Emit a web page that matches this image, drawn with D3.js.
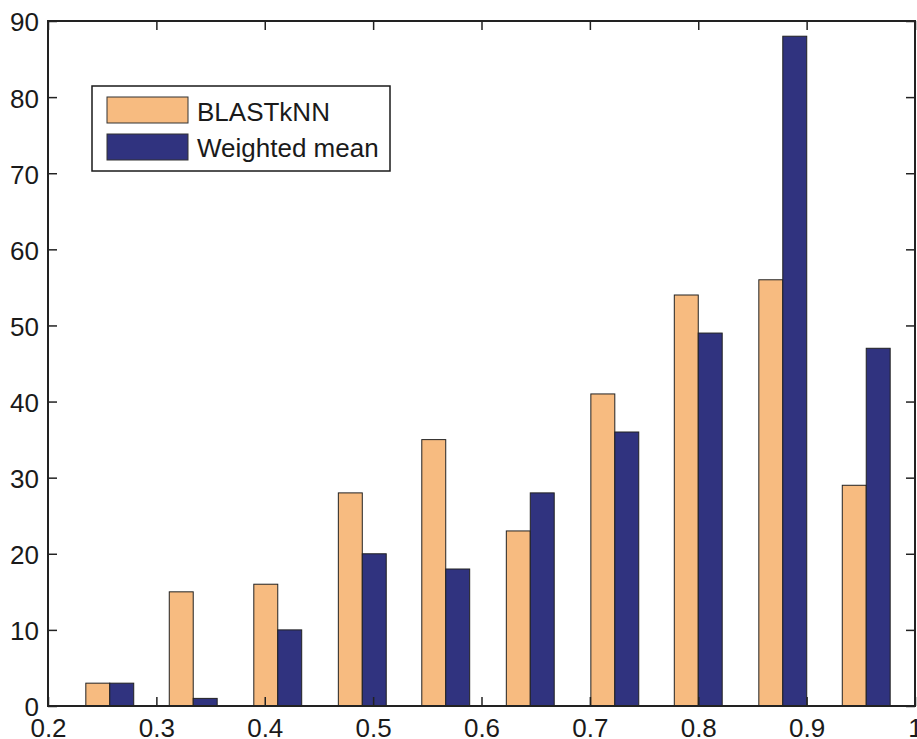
<!DOCTYPE html>
<html>
<head>
<meta charset="utf-8">
<script src="https://cdn.jsdelivr.net/npm/d3@7"></script>
<style>
  body { margin: 0; background: #fff; }
  text { font-family: "Liberation Sans", Arial, sans-serif; fill: #1a1a1a; }
</style>
</head>
<body>
<script>
// bin centres of the histogram
const binCenters = [0.257, 0.334, 0.412, 0.490, 0.567, 0.645, 0.723, 0.800, 0.878, 0.955]
const blastKnn = [3, 15, 16, 28, 35, 23, 41, 54, 56, 29]
const weightedMean = [3, 1, 10, 20, 18, 28, 36, 49, 88, 47]
const seriesNames = ["BLASTkNN", "Weighted mean"]
const seriesColors = ["#f7bb80", "#30337f"]
const xTicks = [0.2, 0.3, 0.4, 0.5, 0.6, 0.7, 0.8, 0.9, 1]
const yTicks = [0, 10, 20, 30, 40, 50, 60, 70, 80, 90]

const W = 917, H = 739
const margin = {top: 21, right: 2, bottom: 33, left: 48}
const width = W - margin.left - margin.right,
      height = H - margin.top - margin.bottom
const fontSize = 26

const svg = d3.select("body").append("svg")
  .attr("width", W)
  .attr("height", H)

const x = d3.scaleLinear().domain([0.2, 1]).range([0, width])
const y = d3.scaleLinear().domain([0, 90]).range([height, 0])

const g = svg.append("g")
  .attr("transform", "translate(" + margin.left + "," + margin.top + ")")

// bars: two side by side per bin
const barW = x(0.2221) - x(0.2)
const data = binCenters.map((c, i) => ({c: c, v: [blastKnn[i], weightedMean[i]]}))

data.forEach(function(d) {
  d.v.forEach(function(v, s) {
    g.append("rect")
      .attr("x", x(d.c) + (s - 1) * barW)
      .attr("y", y(v))
      .attr("width", barW)
      .attr("height", height - y(v))
      .attr("fill", seriesColors[s])
      .attr("stroke", "#222")
      .attr("stroke-width", 1)
  })
})

// axes, MATLAB style: ticks inside, box all round
const tickLen = 9
const axisColor = "#222"

const xAx = g.append("g")
  .attr("transform", "translate(0," + height + ")")
  .call(d3.axisBottom(x).tickValues(xTicks).tickSize(-tickLen).tickPadding(13)
    .tickFormat(d => d === 1 ? "1" : d3.format(".1f")(d)))
xAx.select(".domain").remove()
xAx.selectAll("text").attr("font-size", fontSize).style("font-family", "Liberation Sans, Arial, sans-serif").attr("fill", "#1a1a1a")

const xTop = g.append("g")
  .call(d3.axisTop(x).tickValues(xTicks).tickSize(-tickLen).tickFormat(""))
xTop.select(".domain").remove()

const yAx = g.append("g")
  .call(d3.axisLeft(y).tickValues(yTicks).tickSize(-tickLen).tickPadding(9))
yAx.select(".domain").remove()
yAx.selectAll("text").attr("font-size", fontSize).attr("dy", "0.38em").style("font-family", "Liberation Sans, Arial, sans-serif").attr("fill", "#1a1a1a")

const yRight = g.append("g")
  .attr("transform", "translate(" + width + ",0)")
  .call(d3.axisRight(y).tickValues(yTicks).tickSize(-tickLen).tickFormat(""))
yRight.select(".domain").remove()

g.selectAll(".tick line").attr("stroke", axisColor).attr("stroke-width", 1.5)

g.append("rect")
  .attr("width", width)
  .attr("height", height)
  .attr("fill", "none")
  .attr("stroke", axisColor)
  .attr("stroke-width", 2)

// legend
const leg = svg.append("g").attr("transform", "translate(92,86)")
leg.append("rect")
  .attr("width", 298).attr("height", 85)
  .attr("fill", "#fff").attr("stroke", "#1a1a1a").attr("stroke-width", 1.5)
seriesNames.forEach(function(name, i) {
  leg.append("rect")
    .attr("x", 15).attr("y", 11 + i * 37)
    .attr("width", 81).attr("height", 26)
    .attr("fill", seriesColors[i]).attr("stroke", "#333").attr("stroke-width", 1)
  leg.append("text")
    .attr("x", 105).attr("y", 35 + i * 36)
    .attr("font-size", fontSize)
    .text(name)
})
</script>
</body>
</html>
